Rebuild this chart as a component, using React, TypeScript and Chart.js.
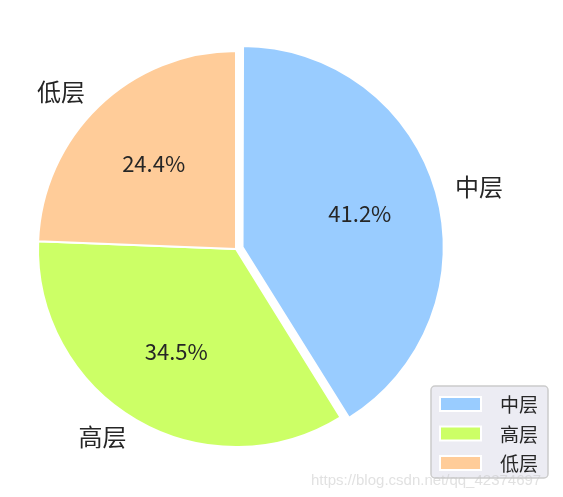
import React, { useEffect, useRef } from "react";
import { Chart, registerables } from "chart.js";

Chart.register(...registerables);

const categories = ["中层", "高层", "低层"];
const shares = [41.2, 34.5, 24.4];
const colors = ["#99CCFF", "#CCFF66", "#FFCC99"];
const explode = [10, 0, 0]; // px the slice is pulled out

const FONT = '"Noto Sans CJK SC", "Noto Sans", sans-serif';
const INK = "#262626";

// Chart.js moves an arc by offset/4 * (1 + (1 - sin(circumference)))
const arcOffsets = explode.map((px, i) => {
  const circ = (shares[i] / shares.reduce((a, b) => a + b, 0)) * Math.PI * 2;
  const fix = 1 - Math.sin(Math.min(Math.PI, circ));
  return (px * 4) / (1 + fix);
});

const labelsPlugin = {
  id: "pieLabels",
  afterDatasetsDraw(chart: Chart) {
    const ctx = chart.ctx;
    const arcs = chart.getDatasetMeta(0).data as any[];
    ctx.save();
    ctx.fillStyle = INK;
    ctx.textBaseline = "middle";
    arcs.forEach((arc, i) => {
      const { x, y, startAngle, endAngle, outerRadius } = arc.getProps(
        ["x", "y", "startAngle", "endAngle", "outerRadius"],
        true
      );
      const mid = (startAngle + endAngle) / 2;
      const cx = x + Math.cos(mid) * explode[i];
      const cy = y + Math.sin(mid) * explode[i];
      // outer label
      const lx = cx + Math.cos(mid) * outerRadius * 1.1;
      const ly = cy + Math.sin(mid) * outerRadius * 1.1;
      ctx.font = `24px ${FONT}`;
      ctx.textAlign = Math.cos(mid) >= 0 ? "left" : "right";
      ctx.fillText(categories[i], lx, ly);
      // percent
      const px = cx + Math.cos(mid) * outerRadius * 0.6;
      const py = cy + Math.sin(mid) * outerRadius * 0.6;
      ctx.font = `22px ${FONT}`;
      ctx.textAlign = "center";
      ctx.fillText(shares[i].toFixed(1) + "%", px, py);
    });

    // legend box, lower right
    const bx = 431, by = 386, bw = 117, bh = 92;
    ctx.beginPath();
    ctx.roundRect(bx, by, bw, bh, 4);
    ctx.fillStyle = "rgba(234,234,242,0.9)";
    ctx.fill();
    ctx.strokeStyle = "#cccccc";
    ctx.lineWidth = 1.5;
    ctx.stroke();
    categories.forEach((c, i) => {
      const rowY = 404 + i * 29.5;
      ctx.fillStyle = colors[i];
      ctx.fillRect(440, rowY - 7, 41, 14);
      ctx.strokeStyle = "#ffffff";
      ctx.lineWidth = 2;
      ctx.strokeRect(440, rowY - 7, 41, 14);
      ctx.fillStyle = INK;
      ctx.font = `19px ${FONT}`;
      ctx.textAlign = "left";
      ctx.fillText(c, 500, rowY + 1);
    });

    // watermark
    ctx.font = `15px "Liberation Sans", Arial, sans-serif`;
    ctx.fillStyle = "rgba(200,200,200,0.55)";
    ctx.textAlign = "left";
    ctx.textBaseline = "alphabetic";
    ctx.fillText("https://blog.csdn.net/qq_42374697", 311, 485);
    ctx.restore();
  },
};

const App = () => {
  const canvasRef = useRef<HTMLCanvasElement | null>(null);

  useEffect(() => {
    const ctx = canvasRef.current?.getContext("2d");
    if (!ctx) return;
    const chart = new Chart(ctx, {
      type: "pie",
      data: {
        labels: categories,
        datasets: [
          {
            data: shares,
            backgroundColor: colors,
            borderColor: "#ffffff",
            borderWidth: 2,
            offset: arcOffsets,
          },
        ],
      },
      options: {
        animation: false,
        responsive: false,
        radius: 198,
        layout: { padding: { left: 20, right: 111, top: 20, bottom: 19 } },
        plugins: {
          legend: { display: false },
          tooltip: { enabled: false },
        },
      },
      plugins: [labelsPlugin],
    } as any);

    return () => {
      chart.destroy();
    };
  }, []);

  return (
    <div style={{ position: "fixed", left: 0, top: 0, width: 563, height: 497, background: "#ffffff" }}>
      <canvas ref={canvasRef} width={563} height={497} style={{ width: 563, height: 497 }} />
    </div>
  );
};

export default App;
